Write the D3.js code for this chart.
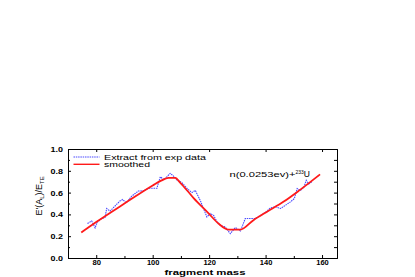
<!DOCTYPE html>
<html>
<head>
<meta charset="utf-8">
<script src="https://cdn.jsdelivr.net/npm/d3@7"></script>
<style>
  body { margin: 0; background: #fff; }
  svg { display: block; }
</style>
</head>
<body>
<svg id="chart"></svg>
<script>
// extracted (noisy) curve
const expMass = [76.9, 78.4, 79.6, 80.4, 81.9, 83.1, 83.7, 84.9, 86.1, 87.3, 88.5, 89.4, 90.6, 91.4, 92.6, 93.8, 94.9, 96.7, 98.5, 100.3, 101.5, 102.7, 103.9, 105.0, 106.2, 107.4, 108.6, 110.4, 112.1, 113.9, 115.1, 116.9, 118.0, 119.2, 120.4, 121.6, 122.8, 124.0, 125.7, 127.5, 129.3, 131.1, 132.8, 134.6, 136.4, 138.2, 140.0, 141.7, 143.5, 145.3, 147.1, 148.8, 150.2, 151.2, 152.4, 153.6, 154.4, 155.3, 156.5];
const expVal  = [0.316, 0.34, 0.276, 0.33, 0.362, 0.37, 0.454, 0.43, 0.463, 0.494, 0.525, 0.537, 0.506, 0.53, 0.568, 0.592, 0.614, 0.617, 0.64, 0.64, 0.64, 0.745, 0.72, 0.745, 0.776, 0.752, 0.715, 0.69, 0.64, 0.6, 0.62, 0.525, 0.454, 0.377, 0.408, 0.39, 0.331, 0.3, 0.285, 0.223, 0.28, 0.248, 0.362, 0.362, 0.362, 0.39, 0.42, 0.46, 0.47, 0.454, 0.485, 0.515, 0.546, 0.638, 0.62, 0.65, 0.713, 0.68, 0.70];

// smoothed curve
const smMass = [74.7, 80, 90, 100, 103, 105.6, 108, 109.8, 114.5, 119.8, 123.3, 126.9, 131, 135.7, 140.4, 146.3, 152.2, 159.3];
const smVal  = [0.234, 0.33, 0.5, 0.665, 0.71, 0.735, 0.735, 0.69, 0.55, 0.41, 0.316, 0.26, 0.26, 0.347, 0.423, 0.515, 0.625, 0.767];

const xTicks = [80, 100, 120, 140, 160];
const yTicks = [0.0, 0.2, 0.4, 0.6, 0.8, 1.0];

const W = 415, H = 277;
const margin = {top: 149, right: 78, bottom: 19, left: 68};

const svg = d3.select('#chart').attr('width', W).attr('height', H);

const x = d3.scaleLinear().domain([70, 165.3]).range([margin.left, W - margin.right]);
const y = d3.scaleLinear().domain([0, 1.0]).range([H - margin.bottom, margin.top]);

const font = 'Liberation Sans, Arial, sans-serif';

// axes, ticks pointing inward
const bottom = svg.append('g')
  .attr('transform', `translate(0,${H - margin.bottom})`)
  .call(d3.axisBottom(x).tickValues(xTicks).tickFormat(d3.format('d')).tickSize(-3).tickPadding(2));
svg.append('g')
  .attr('transform', `translate(0,${H - margin.bottom})`)
  .call(d3.axisBottom(x).tickValues([90, 110, 130, 150]).tickFormat('').tickSize(-2))
  .select('.domain').remove();
const left = svg.append('g')
  .attr('transform', `translate(${margin.left},0)`)
  .call(d3.axisLeft(y).tickValues(yTicks).tickFormat(d3.format('.1f')).tickSize(-3).tickPadding(5));
svg.append('g')
  .attr('transform', `translate(${margin.left},0)`)
  .call(d3.axisLeft(y).tickValues([0.1, 0.3, 0.5, 0.7, 0.9]).tickFormat('').tickSize(-2))
  .select('.domain').remove();
svg.append('g')
  .attr('transform', `translate(0,${margin.top})`)
  .call(d3.axisTop(x).tickValues(xTicks).tickFormat('').tickSize(-3));
svg.append('g')
  .attr('transform', `translate(${W - margin.right},0)`)
  .call(d3.axisRight(y).ticks(10).tickFormat('').tickSize(-3));

svg.selectAll('.domain').attr('stroke', '#000').attr('stroke-width', 1);
svg.selectAll('.tick line').attr('stroke', '#000');
[bottom, left].forEach(g => g.selectAll('text')
  .attr('font-family', font).attr('font-size', 7.5).attr('font-weight', 'bold').attr('fill', '#000')
  .attr('textLength', function () { return this.textContent.length === 2 ? 8.5 : 12.5; })
  .attr('lengthAdjust', 'spacingAndGlyphs'));

// curves
const line = d3.line().x(d => x(d[0])).y(d => y(d[1]));
const lineSm = d3.line().curve(d3.curveMonotoneX).x(d => x(d[0])).y(d => y(d[1]));

svg.append('path')
  .datum(expMass.map((m, i) => [m, expVal[i]]))
  .attr('fill', 'none').attr('stroke', '#4a4aff').attr('stroke-width', 1.1)
  .attr('stroke-dasharray', '1.5,0.8')
  .attr('d', line);

svg.append('path')
  .datum(smMass.map((m, i) => [m, smVal[i]]))
  .attr('fill', 'none').attr('stroke', '#ff1a1a').attr('stroke-width', 1.8)
  .attr('d', lineSm);

// legend
const lg = svg.append('g').attr('font-family', font).attr('font-size', 7.5);
lg.append('line').attr('x1', 73.5).attr('x2', 99.5).attr('y1', 157).attr('y2', 157)
  .attr('stroke', '#4a4aff').attr('stroke-width', 1.1).attr('stroke-dasharray', '1.5,0.8');
lg.append('text').attr('x', 104).attr('y', 159.7).attr('textLength', 102)
  .attr('lengthAdjust', 'spacingAndGlyphs').text('Extract from exp data');
lg.append('line').attr('x1', 73.5).attr('x2', 99.5).attr('y1', 164.3).attr('y2', 164.3)
  .attr('stroke', '#ff1a1a').attr('stroke-width', 1.4);
lg.append('text').attr('x', 104).attr('y', 167.3).attr('textLength', 46)
  .attr('lengthAdjust', 'spacingAndGlyphs').text('smoothed');

// annotation
const ann = svg.append('text').attr('x', 229.5).attr('y', 177)
  .attr('font-family', font).attr('font-size', 7.5);
ann.append('tspan').attr('textLength', 66).attr('lengthAdjust', 'spacingAndGlyphs').text('n(0.0253ev)+');
ann.append('tspan').attr('font-size', 5).attr('dy', -3.5).text('233');
ann.append('tspan').attr('dy', 3.5).attr('font-size', 8.5).text('U');

// axis titles
svg.append('text').attr('x', 164.5).attr('y', 274.5)
  .attr('font-family', font).attr('font-size', 7.5).attr('font-weight', 'bold')
  .attr('textLength', 81).attr('lengthAdjust', 'spacingAndGlyphs').text('fragment mass');

const yl = svg.append('text')
  .attr('transform', `translate(42,${y(0.57)}) rotate(-90)`)
  .attr('text-anchor', 'middle').attr('font-family', font).attr('font-size', 9);
yl.append('tspan').text("E'(A");
yl.append('tspan').attr('font-size', 6).attr('dy', 2).text('L');
yl.append('tspan').attr('dy', -2).text(')/E');
yl.append('tspan').attr('font-size', 6).attr('dy', 2).text('TE');
</script>
</body>
</html>
